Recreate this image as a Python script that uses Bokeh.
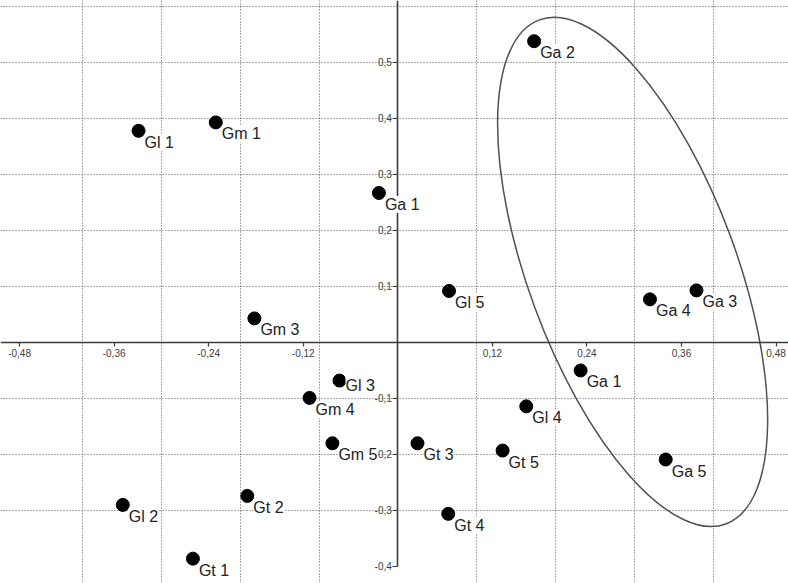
from bokeh.plotting import figure
from bokeh.models import (ColumnDataSource, LabelSet, LinearAxis, FixedTicker,
                          Grid, Range1d)
from bokeh.core.properties import value
from bokeh.embed import file_html
from bokeh.resources import INLINE

# ---- data ----
names = ["Gl 1", "Gm 1", "Ga 1", "Ga 2", "Gl 5", "Ga 4", "Ga 3", "Gm 3",
         "Gl 3", "Gm 4", "Ga 1", "Gl 4", "Gm 5", "Gt 3", "Gt 5", "Ga 5",
         "Gl 2", "Gt 2", "Gt 4", "Gt 1"]
xs = [-0.329, -0.231, -0.024, 0.173, 0.065, 0.320, 0.379, -0.182,
      -0.074, -0.112, 0.232, 0.163, -0.083, 0.025, 0.133, 0.340,
      -0.349, -0.191, 0.064, -0.260]
ys = [0.378, 0.393, 0.267, 0.538, 0.092, 0.077, 0.093, 0.043,
      -0.068, -0.099, -0.050, -0.114, -0.180, -0.180, -0.193, -0.209,
      -0.290, -0.274, -0.306, -0.386]

x_ticks = [-0.48, -0.36, -0.24, -0.12, 0.12, 0.24, 0.36, 0.48]
x_tick_labels = ["-0,48", "-0,36", "-0,24", "-0,12", "0,12", "0,24", "0,36", "0,48"]
y_ticks = [-0.4, -0.3, -0.2, -0.1, 0.1, 0.2, 0.3, 0.4, 0.5]
y_tick_labels = ["-0,4", "-0,3", "-0,2", "-0,1", "0,1", "0,2", "0,3", "0,4", "0,5"]
x_grid = [-0.4, -0.3, -0.2, -0.1, 0.1, 0.2, 0.3, 0.4]
y_grid = [-0.3, -0.2, -0.1, 0.1, 0.2, 0.3, 0.4, 0.5, 0.6]

# ellipse around the "Ga" group: centre, width, height (data units), angle (rad)
ell_x, ell_y = 0.298, 0.126
ell_w, ell_h = 0.682, 0.372
ell_angle = -1.2165

FONT = "Liberation Sans"

# ---- figure ----
p = figure(width=788, height=583, x_range=Range1d(-0.5042, 0.4958),
           y_range=Range1d(-0.4304, 0.6107), x_axis_type=None, y_axis_type=None,
           toolbar_location=None, output_backend="svg", min_border=0,
           outline_line_color=None, background_fill_color="white")

for dim, ticks in ((0, x_grid), (1, y_grid)):
    g = Grid(dimension=dim, ticker=FixedTicker(ticks=ticks),
             grid_line_color="#555555", grid_line_dash="1 2", grid_line_width=1)
    p.add_layout(g)

xaxis = LinearAxis(fixed_location=0, ticker=FixedTicker(ticks=x_ticks),
                   major_label_overrides={t: l for t, l in zip(x_ticks, x_tick_labels)})
yaxis = LinearAxis(fixed_location=0, ticker=FixedTicker(ticks=y_ticks),
                   major_label_overrides={t: l for t, l in zip(y_ticks, y_tick_labels)},
                   bounds=(-0.4, 0.62))
for ax, tick_out, standoff in ((xaxis, 4, 3), (yaxis, 5, 1)):
    ax.axis_line_color = "#3a3a3a"
    ax.axis_line_width = 1.6
    ax.major_tick_line_color = "#3a3a3a"
    ax.major_tick_line_width = 1.2
    ax.major_tick_out = tick_out
    ax.major_tick_in = 0
    ax.minor_tick_line_color = None
    ax.major_label_text_font = FONT
    ax.major_label_text_font_size = "10px"
    ax.major_label_text_color = "#404040"
    ax.major_label_standoff = standoff
p.add_layout(xaxis, "below")
p.add_layout(yaxis, "left")

p.ellipse(x=[ell_x], y=[ell_y], width=[ell_w], height=[ell_h], angle=[ell_angle],
          fill_color=None, line_color="#505050", line_width=1.5)

xoff = [6] * len(names)
yoff = [-17] * len(names)
yoff[names.index("Gl 3")] = -10
src = ColumnDataSource(dict(x=xs, y=ys, name=names, xo=xoff, yo=yoff))
p.scatter("x", "y", source=src, size=13, color="black")

labels = LabelSet(x="x", y="y", text="name", source=src, x_offset="xo", y_offset="yo",
                  text_font=value(FONT), text_font_size="16px", text_color="#222222",
                  text_baseline="alphabetic", background_fill_color="white")
p.add_layout(labels)

open("out.html", "w").write(file_html(p, INLINE))
